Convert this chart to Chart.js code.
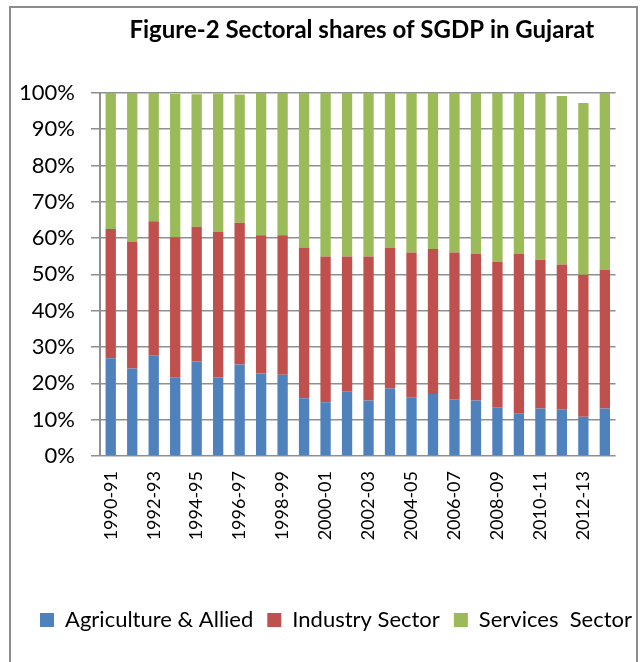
<!DOCTYPE html>
<html>
<head>
<meta charset="utf-8">
<script src="https://cdn.jsdelivr.net/npm/chart.js@4/dist/chart.umd.min.js"></script>
<style>
  html, body { margin: 0; padding: 0; background: #ffffff; }
  #wrap { width: 642px; height: 662px; position: relative; }
</style>
</head>
<body>
<div id="wrap"><canvas id="c" width="642" height="662"></canvas></div>
<script>
const years = ["1990-91","1991-92","1992-93","1993-94","1994-95","1995-96","1996-97","1997-98",
  "1998-99","1999-00","2000-01","2001-02","2002-03","2003-04","2004-05","2005-06",
  "2006-07","2007-08","2008-09","2009-10","2010-11","2011-12","2012-13","2013-14"];
const agriculture = [26.9,24.1,27.6,21.7,26.0,21.6,25.2,22.7,22.4,15.9,14.8,17.8,
  15.3,18.6,16.2,17.1,15.6,15.3,13.4,11.8,13.1,12.9,10.8,13.1];
const industry = [35.6,34.8,37.0,38.5,37.1,40.1,39.0,38.1,38.4,41.5,40.1,37.1,
  39.6,38.7,39.8,39.9,40.4,40.3,40.1,43.8,40.9,39.8,39.1,38.2];
const services = [37.5,41.1,35.4,39.5,36.5,38.1,35.3,39.2,39.2,42.6,45.1,45.1,
  45.1,42.7,44.0,43.0,44.0,44.4,46.5,44.4,46.0,46.4,47.3,48.7];
const seriesNames = ["Agriculture & Allied","Industry Sector","Services  Sector"];
const yTicks = [0,10,20,30,40,50,60,70,80,90,100];

const FONT = "Lato";
const GRID = "#8f8f8f";

const frame = {
  id: "frame",
  beforeDraw(chart) {
    const ctx = chart.ctx;
    ctx.save();
    ctx.fillStyle = "#ffffff";
    ctx.fillRect(0, 0, chart.width, chart.height);
    ctx.strokeStyle = "#8c8c8c";
    ctx.lineWidth = 2;
    ctx.strokeRect(10, 7, 627, 700);
    ctx.restore();
  },
  afterLayout(chart) {
    const lg = chart.legend;
    if (lg) { lg.left += 15; lg.right += 15; }
    const t = chart.titleBlock;
    if (t) { t.left += 4; t.right += 4; }
  }
};

new Chart(document.getElementById("c"), {
  type: "bar",
  data: {
    labels: years,
    datasets: [
      { label: seriesNames[0], data: agriculture, backgroundColor: "#4F81BD" },
      { label: seriesNames[1], data: industry, backgroundColor: "#C0504D" },
      { label: seriesNames[2], data: services, backgroundColor: "#9BBB59" }
    ]
  },
  options: {
    responsive: false,
    animation: false,
    devicePixelRatio: 1,
    layout: { padding: { left: 0, right: 0, top: 0, bottom: 21 } },
    datasets: { bar: { barPercentage: 0.48, categoryPercentage: 1.0 } },
    plugins: {
      tooltip: { enabled: false },
      title: {
        display: true,
        fullSize: false,
        text: "Figure-2 Sectoral shares of SGDP in Gujarat",
        color: "#000000",
        font: { family: FONT, size: 24, weight: "bold" },
        padding: { top: 16, bottom: 48 }
      },
      legend: {
        position: "bottom",
        labels: {
          color: "#000000",
          font: { family: FONT, size: 22 },
          boxWidth: 14,
          boxHeight: 14,
          padding: 14
        }
      }
    },
    scales: {
      x: {
        stacked: true,
        grid: { display: false, drawTicks: false },
        border: { display: false },
        ticks: {
          autoSkip: false,
          minRotation: 90,
          maxRotation: 90,
          padding: 15,
          color: "#000000",
          font: { family: FONT, size: 18 },
          callback: function (v, i) { return i % 2 === 0 ? years[i] : ""; }
        },
        afterFit: function (s) { s.height = 139; }
      },
      y: {
        stacked: true,
        min: yTicks[0],
        max: yTicks[yTicks.length - 1],
        grid: { color: GRID, lineWidth: 1.5, tickLength: 9 },
        border: { display: true, color: GRID, width: 2 },
        afterBuildTicks: function (s) { s.ticks = yTicks.map(v => ({ value: v })); },
        ticks: {
          padding: 16,
          color: "#000000",
          font: { family: FONT, size: 22 },
          callback: function (v) { return v + "%"; }
        },
        afterFit: function (s) { s.width = 100; }
      },
      yR: {
        type: "linear",
        position: "right",
        display: true,
        grid: { display: false, drawTicks: false },
        border: { display: false },
        ticks: { display: false },
        afterFit: function (s) { s.width = 20; }
      }
    }
  },
  plugins: [frame]
});
</script>
</body>
</html>
